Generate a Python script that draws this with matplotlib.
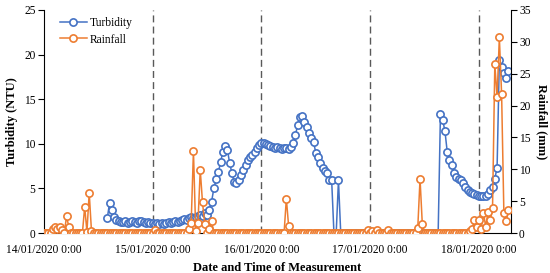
import numpy as np
import pandas as pd
import matplotlib
matplotlib.use("Agg")
import matplotlib.pyplot as plt

plt.rcParams['font.family'] = ['Liberation Serif', 'DejaVu Serif']

nan = np.nan

# half-hourly readings starting 14/01/2020 0:00
start = "2020-01-14 00:00"

turbidity = [
    nan, nan, nan, nan, nan, nan, nan, nan, nan, nan, nan, nan,
    nan, nan, nan, nan, nan, nan, nan, nan, nan, nan, nan, nan,
    nan, nan, nan, nan, 1.7, 3.4, 2.6, 1.8, 1.5, 1.3, 1.2, 1.2,
    1.3, 1.1, 1.2, 1.4, 1.2, 1.1, 1.3, 1.4, 1.2, 1.1, 1.2, 1.1,
    1.1, 1.0, 1.1, 1.0, 1.1, 1.0, 1.1, 1.2, 1.1, 1.2, 1.3, 1.2,
    1.4, 1.5, 1.6, 1.5, 1.7, 1.8, 1.7, 1.8, 1.9, 2.0, 1.9, 2.2,
    2.0, 2.6, 3.5, 5.0, 6.0, 6.8, 8.0, 9.1, 9.8, 9.3, 7.8, 6.7,
    5.7, 5.6, 5.9, 6.5, 7.1, 7.6, 8.2, 8.5, 8.7, 9.1, 9.5, 9.9,
    10.1, 10.1, 10.0, 9.9, 9.7, 9.6, 9.5, 9.6, 9.5, 9.4, 9.5, 9.5,
    9.4, 9.6, 10.1, 11.0, 12.1, 13.0, 13.1, 12.4, 11.9, 11.2, 10.6, 10.2,
    9.0, 8.5, 7.8, 7.3, 7.0, 6.7, 5.9, 5.9, 0, 0, 5.9, 0,
    0, 0, 0, 0, 0, 0, 0, 0, 0, 0, 0, 0,
    0, 0, 0, 0, 0, 0, 0, 0, 0, 0, 0, 0,
    0, 0, 0, 0, 0, 0, 0, 0, 0, 0, 0, 0,
    0, 0, 0, 0, 0, 0, 0, 13.3, 12.7, 11.4, 9.1, 8.2,
    7.6, 6.7, 6.3, 6.1, 5.9, 5.6, 5.2, 4.8, 4.6, 4.5, 4.4, 4.3,
    4.2, 4.1, 4.1, 4.2, 4.4, 4.8, 5.2, 6.1, 7.3, 19.4, 18.6, 17.9,
    17.4, 18.2,
]

rainfall = [
    0, 0, 0, 0, 0.7, 1.0, 0.6, 1.0, 0.4, 0, 2.6, 1.0,
    0, 0, 0, 0, 0, 0, 4.1, 0.2, 6.3, 0.3, 0, 0,
    0, 0, 0, 0, 0, 0, 0, 0, 0, 0, 0, 0,
    0, 0, 0, 0, 0, 0, 0, 0, 0, 0, 0, 0,
    0, 0.5, 0, 0, 0, 0, 0, 0, 0, 0, 0, 0,
    0, 0, 0, 0, 0.7, 1.6, 12.9, 0.3, 1.6, 9.9, 4.8, 1.4,
    0, 0.7, 1.9, 0, 0, 0, 0, 0, 0, 0, 0, 0,
    0, 0, 0, 0, 0, 0, 0, 0, 0, 0, 0, 0,
    0, 0, 0, 0, 0, 0, 0, 0, 0, 0, 0, 5.4,
    1.1, 0, 0, 0, 0, 0, 0, 0, 0, 0, 0, 0,
    0, 0, 0, 0, 0, 0, 0, 0, 0, 0, 0, 0,
    0, 0, 0, 0, 0, 0, 0, 0, 0, 0, 0, 0.5,
    0, 0.3, 0, 0.5, 0, 0, 0, 0, 0.5, 0, 0, 0,
    0, 0, 0, 0, 0, 0, 0, 0, 0, 0.8, 8.5, 1.4,
    0, 0, 0, 0, 0, 0, 0, 0, 0, 0, 0, 0,
    0, 0, 0, 0, 0, 0, 0, 0, 0.3, 0.7, 2.0, 1.0,
    2.0, 0.6, 3.1, 1.0, 3.3, 2.0, 4.0, 26.5, 21.3, 30.7, 21.8, 3.1,
    1.9, 3.6,
]

day_ticks = ["2020-01-14", "2020-01-15", "2020-01-16", "2020-01-17", "2020-01-18"]
tick_labels = ["14/01/2020 0:00", "15/01/2020 0:00", "16/01/2020 0:00",
               "17/01/2020 0:00", "18/01/2020 0:00"]
day_lines = ["2020-01-15", "2020-01-16", "2020-01-17", "2020-01-18"]
x_end = "2020-01-18 07:00"

blue = '#4472C4'
orange = '#ED7D31'

times = pd.date_range(start, periods=len(turbidity), freq="30min")

fig = plt.figure(figsize=(5.5, 2.73), dpi=100)
ax = fig.add_axes([0.0798, 0.1465, 0.8487, 0.8169])
ax2 = ax.twinx()

for d in day_lines:
    ax.axvline(pd.Timestamp(d), color='#595959', lw=1.0, ls=(0, (5, 3)), zorder=1)

l1, = ax.plot(times, turbidity, color=blue, lw=1.1, marker='o', ms=5.2,
              mfc='white', mec=blue, mew=1.2, label='Turbidity', zorder=3)
l2, = ax2.plot(times, rainfall, color=orange, lw=1.1, marker='o', ms=5.2,
               mfc='white', mec=orange, mew=1.2, label='Rainfall', zorder=3)

ax.set_xlim(pd.Timestamp(start), pd.Timestamp(x_end))
ax.set_ylim(0, 25)
ax2.set_ylim(0, 35)
ax.set_yticks(range(0, 26, 5))
ax2.set_yticks(range(0, 36, 5))
ax.set_xticks([pd.Timestamp(d) for d in day_ticks])
ax.set_xticklabels(tick_labels)

fs = 8.3
ax.tick_params(axis='x', length=0, labelsize=fs, pad=8)
ax.tick_params(axis='y', direction='out', length=4, width=0.8, labelsize=fs, pad=2)
ax2.tick_params(axis='y', direction='out', length=4, width=0.8, labelsize=fs, pad=2)

for a in (ax, ax2):
    a.spines['top'].set_visible(False)
ax.spines['right'].set_visible(False)
ax2.spines['left'].set_visible(False)
ax2.spines['bottom'].set_visible(False)

ax.set_ylabel('Turbidity (NTU)', fontsize=9, fontweight='bold', labelpad=4)
ax2.set_ylabel('Rainfall (mm)', fontsize=9, fontweight='bold', rotation=270, labelpad=12)
ax.set_xlabel('Date and Time of Measurement', fontsize=9, fontweight='bold', labelpad=4)

ax2.legend([l1, l2], ['Turbidity', 'Rainfall'], loc='upper left',
           bbox_to_anchor=(0.02, 1.0), frameon=False, fontsize=fs,
           handlelength=2.3, handletextpad=0.3, labelspacing=0.4, borderaxespad=0.2)

fig.savefig('out.png', dpi=100)
